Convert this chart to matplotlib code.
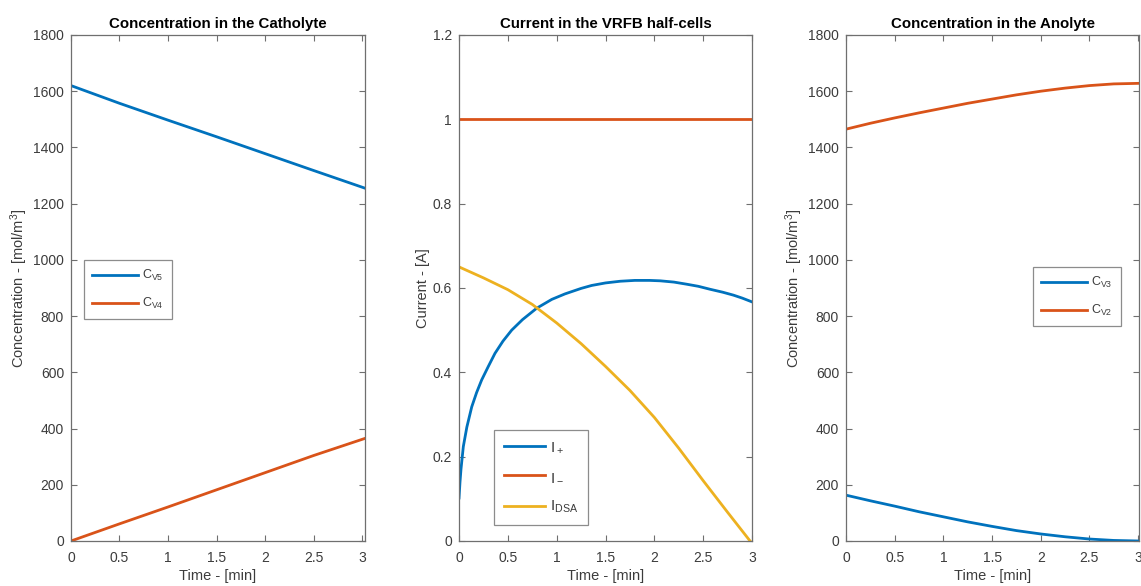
import matplotlib
matplotlib.use("Agg")
import matplotlib.pyplot as plt
from matplotlib.ticker import FormatStrFormatter, MultipleLocator

plt.rcParams["font.family"] = ["Liberation Sans", "DejaVu Sans"]
plt.rcParams["mathtext.default"] = "regular"

BLUE = "#0072BD"
ORANGE = "#D95319"
YELLOW = "#EDB120"
AXIS_GREY = "#6f6f6f"
TEXT_GREY = "#3c3c3c"

# --- Catholyte (mol/m^3) ---
t_cath = [0.0, 0.5, 1.0, 1.5, 2.0, 2.5, 3.03]
c_v5 = [1620, 1557, 1497, 1438, 1378, 1318, 1255]
c_v4 = [0, 61, 121, 182, 243, 304, 365]

# --- Half-cell currents (A) ---
t_plus = [0.0, 0.01, 0.02, 0.044, 0.08, 0.13, 0.18, 0.232, 0.3, 0.368, 0.45,
          0.539, 0.65, 0.795, 0.95, 1.085, 1.25, 1.358, 1.5, 1.65, 1.8, 1.95,
          2.06, 2.2, 2.33, 2.45, 2.57, 2.7, 2.81, 2.9, 3.0]
i_plus = [0.102, 0.14, 0.17, 0.224, 0.27, 0.318, 0.352, 0.382, 0.414, 0.445,
          0.474, 0.50, 0.525, 0.552, 0.573, 0.586, 0.599, 0.606, 0.612, 0.616,
          0.618, 0.618, 0.617, 0.614, 0.609, 0.604, 0.597, 0.590, 0.583, 0.576,
          0.567]
t_minus = [0.0, 3.0]
i_minus = [1.0, 1.0]
t_dsa = [0.0, 0.25, 0.5, 0.75, 1.0, 1.25, 1.5, 1.75, 2.0, 2.25, 2.5, 2.75, 2.98]
i_dsa = [0.650, 0.624, 0.596, 0.561, 0.517, 0.468, 0.414, 0.357, 0.293, 0.220,
         0.143, 0.068, 0.0]

# --- Anolyte (mol/m^3) ---
t_ano = [0.0, 0.25, 0.5, 0.75, 1.0, 1.25, 1.5, 1.75, 2.0, 2.25, 2.5, 2.75, 3.01]
c_v3 = [163, 143, 124, 104, 86, 68, 52, 37, 25, 15, 7, 2, 0]
c_v2 = [1465, 1486, 1505, 1523, 1540, 1557, 1572, 1587, 1600, 1611, 1620, 1626, 1628]

x_ticks = [0, 0.5, 1, 1.5, 2, 2.5, 3]


def style_axes(ax, xmax, ymax, ystep, yfmt):
    ax.set_xlim(0, xmax)
    ax.set_ylim(0, ymax)
    ax.set_xticks(x_ticks)
    ax.xaxis.set_major_formatter(FormatStrFormatter("%g"))
    ax.yaxis.set_major_locator(MultipleLocator(ystep))
    ax.yaxis.set_major_formatter(FormatStrFormatter(yfmt))
    ax.tick_params(direction="in", length=4, width=0.8, top=True, right=True,
                   colors=AXIS_GREY, labelcolor=TEXT_GREY, labelsize=10)
    ax.tick_params(axis="x", pad=7)
    ax.tick_params(axis="y", pad=5)
    for sp in ax.spines.values():
        sp.set_color(AXIS_GREY)
        sp.set_linewidth(0.9)
    ax.set_xlabel("Time - [min]", fontsize=10.5, color=TEXT_GREY, labelpad=3)


def add_legend(ax, anchor, fontsize, handlelength):
    leg = ax.legend(loc="upper left", bbox_to_anchor=anchor, fontsize=fontsize,
                    frameon=True, fancybox=False, edgecolor=AXIS_GREY,
                    handlelength=handlelength, borderpad=0.65, labelspacing=1.0,
                    handletextpad=0.3, borderaxespad=0)
    leg.get_frame().set_linewidth(0.9)
    for txt in leg.get_texts():
        txt.set_color(TEXT_GREY)
    return leg


fig = plt.figure(figsize=(11.41, 5.86), dpi=100)
ax1 = fig.add_axes([0.0622, 0.0768, 0.2577, 0.8635])
ax2 = fig.add_axes([0.4023, 0.0768, 0.2568, 0.8635])
ax3 = fig.add_axes([0.7415, 0.0768, 0.2568, 0.8635])

lw = 2.0

# catholyte
ax1.plot(t_cath, c_v5, color=BLUE, lw=lw, label="C$_{V5}$")
ax1.plot(t_cath, c_v4, color=ORANGE, lw=lw, label="C$_{V4}$")
style_axes(ax1, 3.03, 1800, 200, "%d")
ax1.set_title("Concentration in the Catholyte", fontsize=10.8, fontweight="bold", pad=5)
ax1.set_ylabel("Concentration - [mol/m$^3$]", fontsize=10.5, color=TEXT_GREY, labelpad=2)
add_legend(ax1, (0.044, 0.555), 9, 3.7)

# half-cell currents
ax2.plot(t_plus, i_plus, color=BLUE, lw=lw, label="I$_+$")
ax2.plot(t_minus, i_minus, color=ORANGE, lw=lw, label="I$_-$")
ax2.plot(t_dsa, i_dsa, color=YELLOW, lw=lw, label="I$_{DSA}$")
style_axes(ax2, 3.0, 1.2, 0.2, "%g")
ax2.set_title("Current in the VRFB half-cells", fontsize=10.8, fontweight="bold", pad=5)
ax2.set_ylabel("Current - [A]", fontsize=10.5, color=TEXT_GREY, labelpad=2)
add_legend(ax2, (0.119, 0.219), 11, 2.7)

# anolyte
ax3.plot(t_ano, c_v3, color=BLUE, lw=lw, label="C$_{V3}$")
ax3.plot(t_ano, c_v2, color=ORANGE, lw=lw, label="C$_{V2}$")
style_axes(ax3, 3.01, 1800, 200, "%d")
ax3.set_title("Concentration in the Anolyte", fontsize=10.8, fontweight="bold", pad=5)
ax3.set_ylabel("Concentration - [mol/m$^3$]", fontsize=10.5, color=TEXT_GREY, labelpad=2)
add_legend(ax3, (0.638, 0.541), 9, 3.7)

fig.savefig("out.png", dpi=100)
